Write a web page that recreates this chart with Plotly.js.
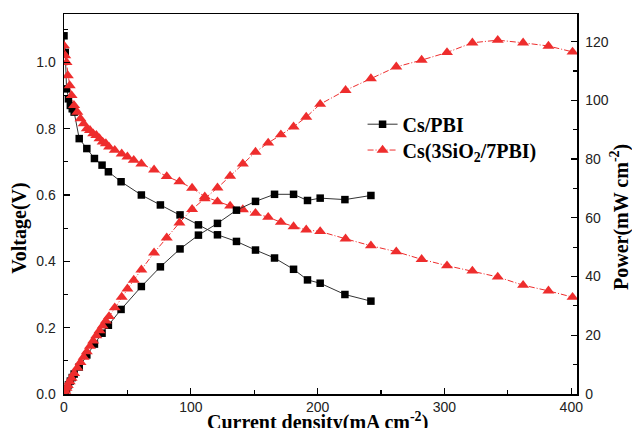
<!DOCTYPE html>
<html>
<head>
<meta charset="utf-8">
<script src="https://cdn.plot.ly/plotly-3.0.1.min.js"></script>
<style>html,body{margin:0;padding:0;background:#fff;}#chart{width:632px;height:428px;}</style>
</head>
<body>
<div id="chart"></div>
<script>
// Cs/PBI
const pbiCurrent = [0, 1, 2, 3.5, 5, 6.5, 8, 12, 18, 24, 30, 35, 45, 61, 76, 91.5, 106, 121, 136, 151, 166, 181, 192, 202, 221.5, 242];
const pbiVoltage = [1.08, 1.03, 0.92, 0.89, 0.87, 0.86, 0.85, 0.77, 0.74, 0.71, 0.69, 0.67, 0.64, 0.60, 0.57, 0.54, 0.51, 0.48, 0.46, 0.434, 0.41, 0.376, 0.344, 0.334, 0.30, 0.28];
const pbiPower   = [0, 1.0, 1.8, 3.1, 4.4, 5.6, 6.8, 9.2, 13.3, 17.0, 20.7, 23.4, 28.8, 36.6, 43.3, 49.4, 54.1, 58.1, 62.6, 65.6, 68.0, 68.0, 65.9, 66.7, 66.2, 67.6];

// Cs(3SiO2/7PBI)
const sioCurrent = [0, 1, 2, 3, 4.5, 6, 8, 10.5, 13, 15.5, 18, 20.5, 23, 25.5, 28, 30.5, 33, 35.5, 40, 45.5, 50, 55, 61, 71, 81, 91, 101, 111, 121, 131, 141, 151, 161, 171, 181, 191, 202, 222, 242, 262, 282, 302, 322, 342, 362, 382, 401];
const sioVoltage = [1.05, 1.02, 1.00, 0.96, 0.93, 0.90, 0.87, 0.85, 0.83, 0.815, 0.80, 0.795, 0.785, 0.78, 0.77, 0.76, 0.755, 0.745, 0.735, 0.724, 0.715, 0.705, 0.694, 0.676, 0.656, 0.64, 0.621, 0.595, 0.58, 0.567, 0.556, 0.545, 0.533, 0.518, 0.505, 0.495, 0.49, 0.468, 0.447, 0.429, 0.406, 0.387, 0.371, 0.353, 0.328, 0.311, 0.292];
const sioPower   = [0, 1.0, 2.0, 2.9, 4.2, 5.4, 7.0, 8.9, 10.8, 12.6, 14.4, 16.3, 18.1, 19.9, 21.6, 23.2, 24.9, 26.4, 29.4, 33.0, 35.8, 38.8, 42.3, 48.1, 53.2, 58.3, 62.9, 66.5, 70.2, 74.2, 78.4, 82.4, 85.5, 88.3, 91.0, 94.3, 98.7, 103.4, 107.4, 111.4, 113.7, 116.3, 119.6, 120.5, 119.6, 118.5, 116.5];

const seriesNames = ['Cs/PBI', 'Cs(3SiO<sub>2</sub>/7PBI)'];
const xTitle = 'Current density(mA cm<sup>-2</sup>)';
const yTitle = 'Voltage(V)';
const y2Title = 'Power(mW cm<sup>-2</sup>)';

const BLACK = '#000000';
const RED = '#ee2d2d';
const serif = 'Liberation Serif, Times New Roman, serif';
const sans = 'Liberation Sans, Arial, sans-serif';

const blackLine = {color: '#333333', width: 1};
const redLine = {color: RED, width: 1, dash: '6px,2px,1px,2px'};
const sq = {symbol: 'square', size: 7.5, color: BLACK};
const tri = {symbol: 'triangle-up', size: 10.5, color: RED};

const traces = [
  {x: pbiCurrent, y: pbiVoltage, mode: 'lines+markers', name: seriesNames[0], line: blackLine, marker: sq, xaxis: 'x', yaxis: 'y', legend: 'legend'},
  {x: sioCurrent, y: sioVoltage, mode: 'lines+markers', name: seriesNames[1], line: redLine, marker: tri, xaxis: 'x', yaxis: 'y', legend: 'legend2'},
  {x: pbiCurrent, y: pbiPower, mode: 'lines+markers', name: seriesNames[0], line: blackLine, marker: sq, xaxis: 'x', yaxis: 'y2', showlegend: false},
  {x: sioCurrent, y: sioPower, mode: 'lines+markers', name: seriesNames[1], line: redLine, marker: tri, xaxis: 'x', yaxis: 'y2', showlegend: false}
];

const axisCommon = {
  showgrid: false, zeroline: false, showline: true, linecolor: '#000', linewidth: 1.5,
  ticks: 'inside', ticklen: 6, tickwidth: 1.2, tickcolor: '#000',
  tickfont: {family: sans, size: 14, color: '#222'}
};

const legendFont = {family: serif, size: 20, color: '#000', weight: 'bold'};
const titleFont = {family: serif, size: 20, color: '#000', weight: 'bold'};

const layout = {
  width: 632, height: 428,
  margin: {l: 64, r: 55, t: 14, b: 34},
  paper_bgcolor: '#fff', plot_bgcolor: '#fff',
  showlegend: true,
  legend: {x: 0.582, y: 0.71, xanchor: 'left', yanchor: 'middle', bgcolor: 'rgba(0,0,0,0)', font: legendFont},
  legend2: {x: 0.582, y: 0.642, xanchor: 'left', yanchor: 'middle', bgcolor: 'rgba(0,0,0,0)', font: legendFont},
  xaxis: Object.assign({}, axisCommon, {
    range: [0, 404.5], tickvals: [0, 100, 200, 300, 400], mirror: true,
    minor: {tickvals: [50, 150, 250, 350], ticks: 'inside', ticklen: 4, tickcolor: '#000'},
    ticklabelstandoff: 0
  }),
  yaxis: Object.assign({}, axisCommon, {
    range: [0, 1.1457], tickvals: [0, 0.2, 0.4, 0.6, 0.8, 1.0], ticktext: ['0.0', '0.2', '0.4', '0.6', '0.8', '1.0'],
    minor: {tickvals: [0.1, 0.3, 0.5, 0.7, 0.9, 1.1], ticks: 'inside', ticklen: 4, tickcolor: '#000'},
    ticklabelstandoff: 4
  }),
  yaxis2: Object.assign({}, axisCommon, {
    overlaying: 'y', side: 'right', anchor: 'x',
    range: [0, 129.4], tickvals: [0, 20, 40, 60, 80, 100, 120],
    minor: {tickvals: [10, 30, 50, 70, 90, 110], ticks: 'inside', ticklen: 4, tickcolor: '#000'},
    ticklabelstandoff: 4
  }),
  annotations: [
    {text: xTitle, xref: 'paper', yref: 'paper', x: 0.495, y: -0.073, xanchor: 'center', yanchor: 'middle', showarrow: false, font: titleFont},
    {text: yTitle, xref: 'paper', yref: 'paper', x: -0.086, y: 0.437, xanchor: 'center', yanchor: 'middle', showarrow: false, textangle: -90, font: titleFont},
    {text: y2Title, xref: 'paper', yref: 'paper', x: 1.084, y: 0.466, xanchor: 'center', yanchor: 'middle', showarrow: false, textangle: -90, font: titleFont}
  ]
};

Plotly.newPlot('chart', traces, layout, {staticPlot: true, displayModeBar: false});
</script>
</body>
</html>
